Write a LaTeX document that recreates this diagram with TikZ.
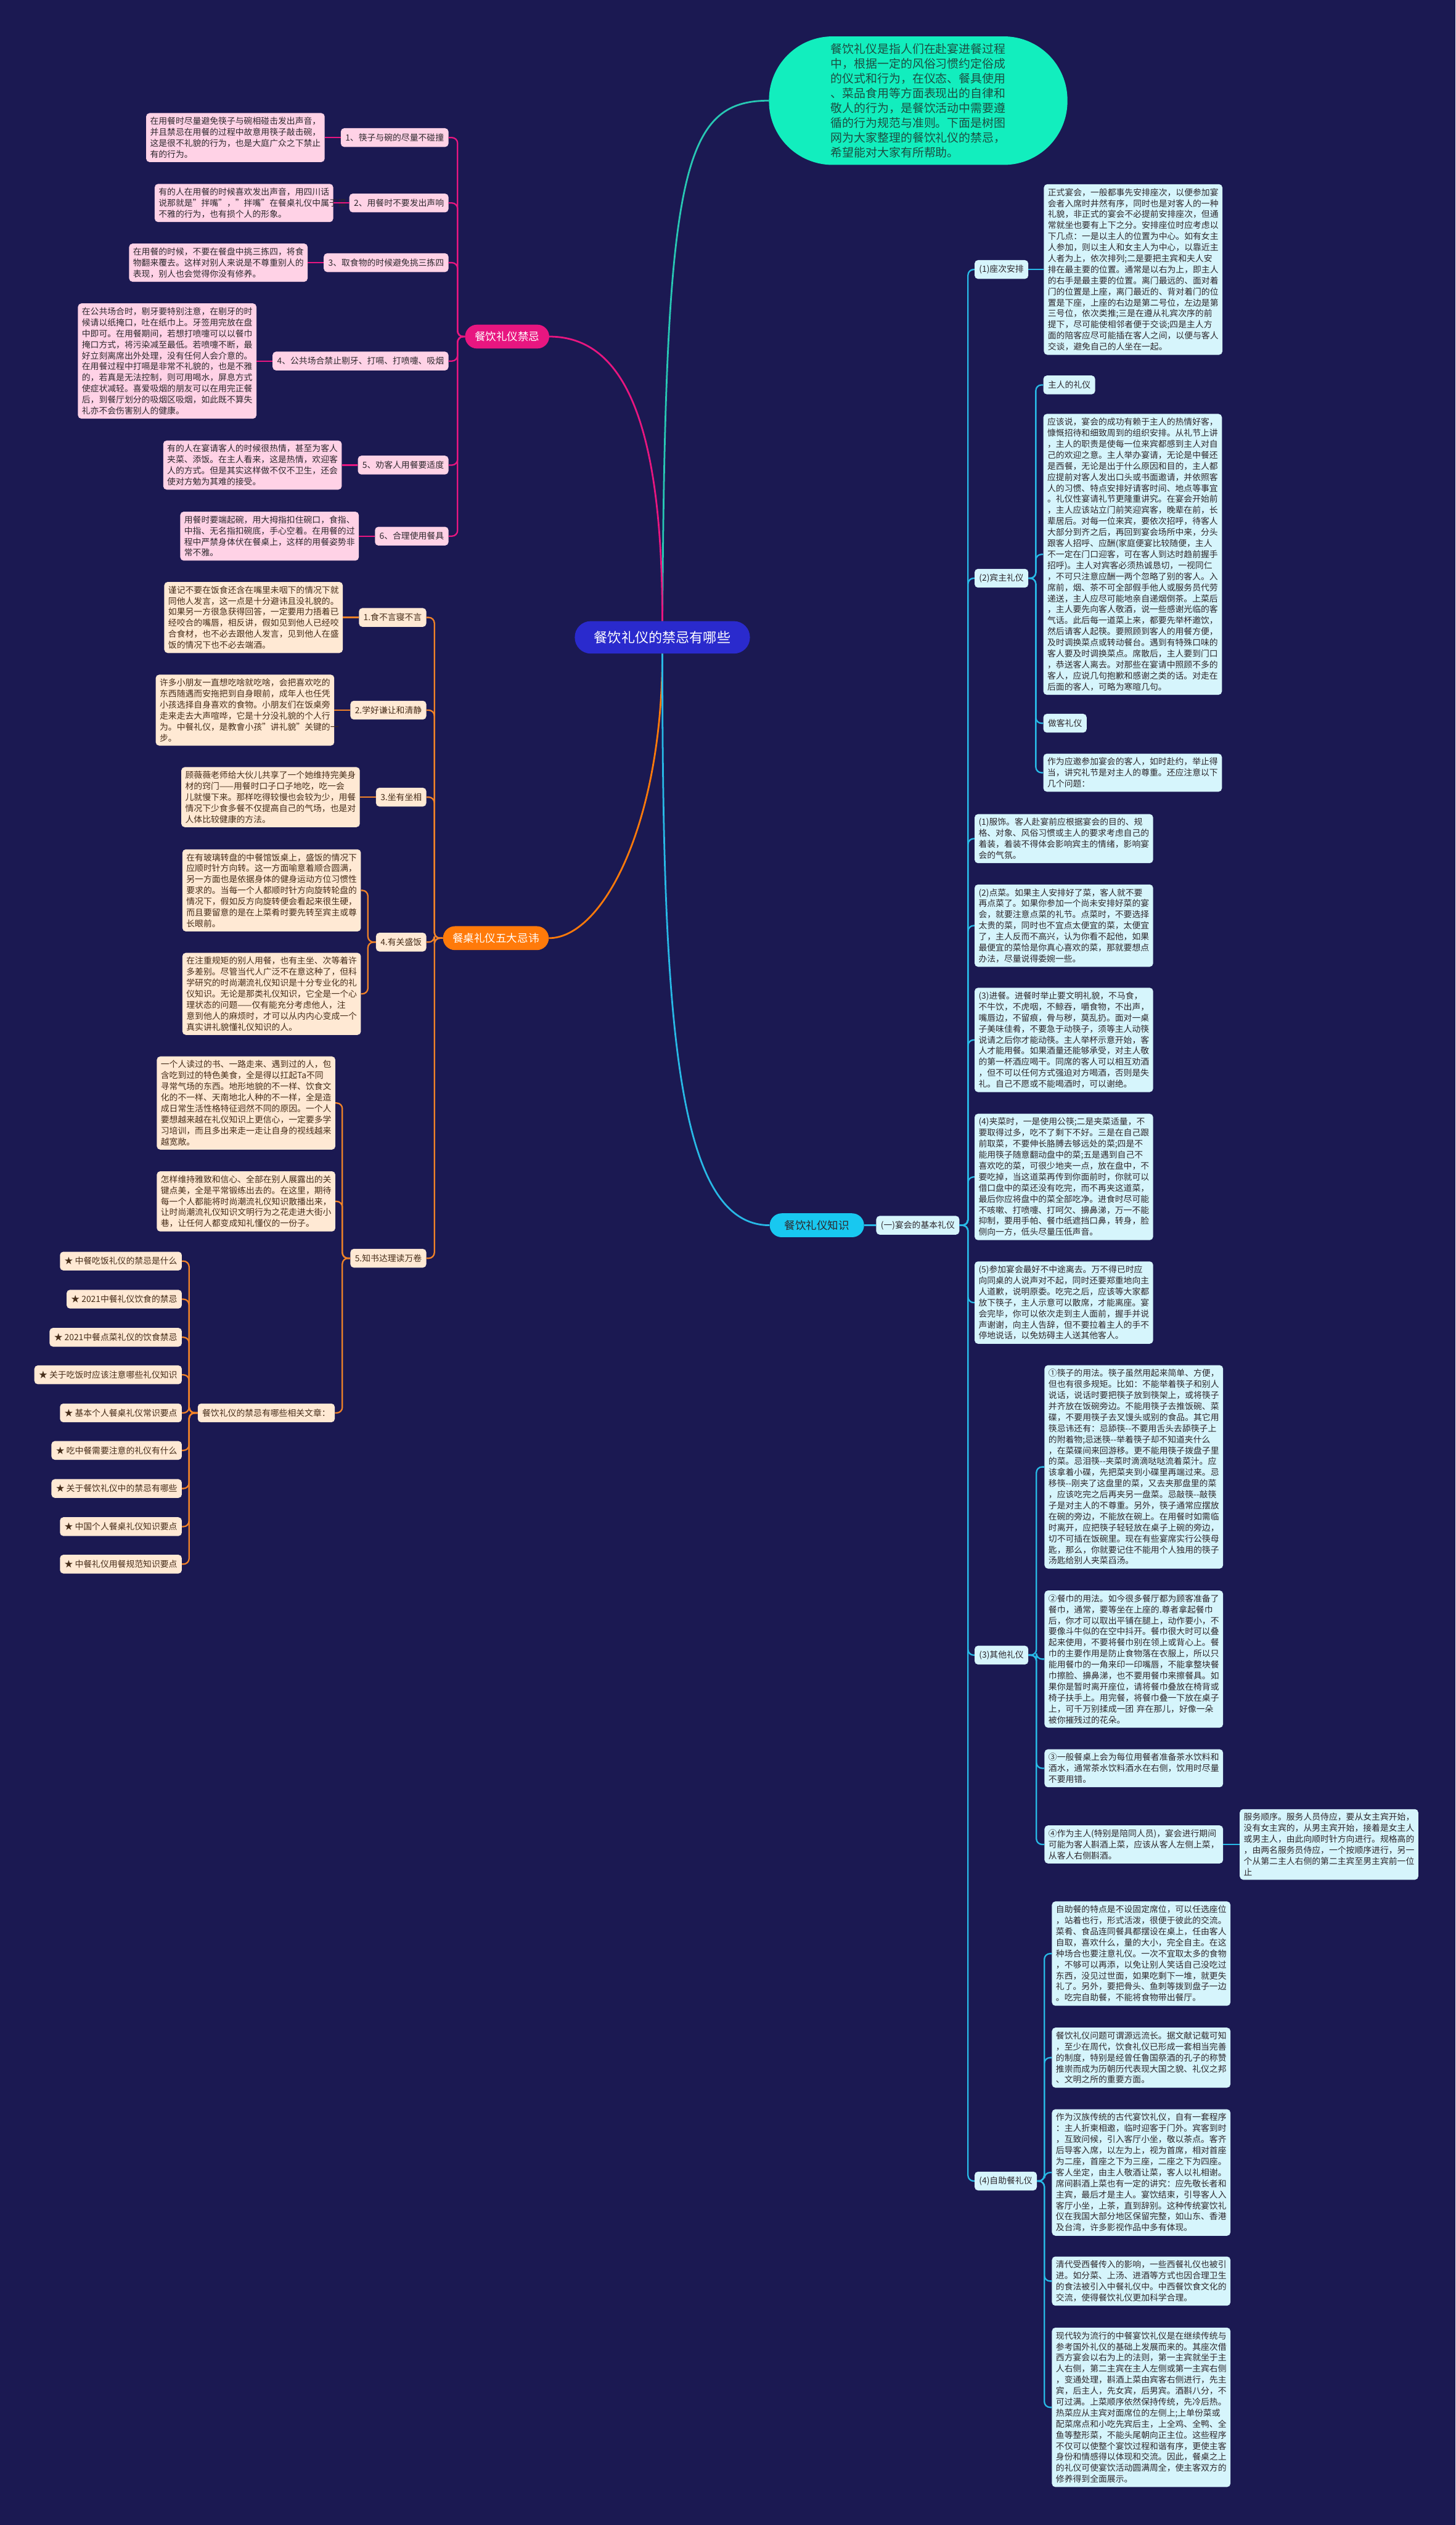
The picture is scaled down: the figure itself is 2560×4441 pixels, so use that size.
\documentclass[tikz,border=0pt]{standalone}
\usepackage{fontspec}
\setmainfont{Noto Sans CJK SC}
\usetikzlibrary{positioning}

\definecolor{bgnavy}{RGB}{27,25,82}
\definecolor{rootblue}{RGB}{42,42,205}
\definecolor{introteal}{RGB}{18,238,190}
\definecolor{introtext}{RGB}{28,78,66}
\definecolor{tealline}{RGB}{40,200,180}
\definecolor{pinkmain}{RGB}{232,22,128}
\definecolor{pinkfill}{RGB}{255,210,230}
\definecolor{orangemain}{RGB}{255,122,10}
\definecolor{orangeline}{RGB}{240,130,40}
\definecolor{orangefill}{RGB}{255,233,212}
\definecolor{cyanmain}{RGB}{24,200,240}
\definecolor{cyanline}{RGB}{40,185,230}
\definecolor{cyanfill}{RGB}{214,245,252}
\definecolor{darktext}{RGB}{45,40,45}
\definecolor{browntext}{RGB}{70,45,25}

\tikzset{
  every node/.style={font=\fontsize{15}{19.4}\selectfont},
  txtbox/.style={rounded corners=6pt, inner xsep=7pt, inner ysep=7pt, text width=300pt, align=left, text=darktext},
  pinkbox/.style={txtbox, fill=pinkfill},
  orangebox/.style={txtbox, fill=orangefill, text=browntext},
  cyanbox/.style={txtbox, fill=cyanfill},
  lbl/.style={rounded corners=6pt, inner xsep=8pt, minimum height=33pt, text=darktext},
  pinklabel/.style={lbl, fill=pinkfill},
  orangelabel/.style={lbl, fill=orangefill, text=browntext},
  cyanlabel/.style={lbl, fill=cyanfill},
  branch/.style={rounded corners=21pt, minimum height=42pt, inner xsep=17pt, font=\fontsize{19}{22}\selectfont},
  rootnode/.style={rounded corners=28pt, minimum height=57pt, inner xsep=34pt, fill=rootblue, text=white, font=\fontsize{24}{28}\selectfont},
  intronode/.style={rounded corners=112pt, minimum width=525pt, minimum height=226pt, fill=introteal, text=introtext, align=left, font=\fontsize{20.5}{26}\selectfont},
  mainln/.style={line width=3pt},
  pinkln/.style={pinkmain, line width=2.5pt, rounded corners=10pt},
  orangeln/.style={orangeline, line width=2.5pt, rounded corners=10pt},
  cyanln/.style={cyanline, line width=2.5pt, rounded corners=10pt}
}

\begin{document}
\begin{tikzpicture}[x=1pt,y=-1pt]
\fill[bgnavy] (0,0) rectangle (2560,4441);
\useasboundingbox (0,0) rectangle (2560,4441);

% centre and intro
\node[rootnode] (root) at (1165,1121) {餐饮礼仪的禁忌有哪些};
\node[intronode] (intro) at (1615,177) {餐饮礼仪是指人们在赴宴进餐过程\\中，根据一定的风俗习惯约定俗成\\的仪式和行为，在仪态、餐具使用\\、菜品食用等方面表现出的自律和\\敬人的行为，是餐饮活动中需要遵\\循的行为规范与准则。下面是树图\\网为大家整理的餐饮礼仪的禁忌，\\希望能对大家有所帮助。};
\draw[tealline, mainln] (root.north) .. controls (1170,300) and (1200,177) .. (intro.west);

% left top: 餐饮礼仪禁忌
\node[branch, fill=pinkmain, text=white] (pk) at (892,592) {餐饮礼仪禁忌};
\draw[pinkmain, mainln] (root.north) .. controls (1165,750) and (1100,592) .. (pk.east);

\node[pinklabel, anchor=east] (pl1) at (789,242) {1、筷子与碗的尽量不碰撞};
\node[pinklabel, anchor=east] (pl2) at (789,357) {2、用餐时不要发出声响};
\node[pinklabel, anchor=east] (pl3) at (789,462) {3、取食物的时候避免挑三拣四};
\node[pinklabel, anchor=east] (pl4) at (789,635) {4、公共场合禁止剔牙、打嗝、打喷嚏、吸烟};
\node[pinklabel, anchor=east] (pl5) at (789,818) {5、劝客人用餐要适度};
\node[pinklabel, anchor=east] (pl6) at (789,943) {6、合理使用餐具};

\node[pinkbox, left=28pt of pl1] (pb1) {在用餐时尽量避免筷子与碗相碰击发出声音，\\并且禁忌在用餐的过程中故意用筷子敲击碗，\\这是很不礼貌的行为，也是大庭广众之下禁止\\有的行为。};
\node[pinkbox, left=28pt of pl2] (pb2) {有的人在用餐的时候喜欢发出声音，用四川话\\说那就是"拌嘴"，"拌嘴"在餐桌礼仪中属于很\\不雅的行为，也有损个人的形象。};
\node[pinkbox, left=28pt of pl3] (pb3) {在用餐的时候，不要在餐盘中挑三拣四，将食\\物翻来覆去。这样对别人来说是不尊重别人的\\表现，别人也会觉得你没有修养。};
\node[pinkbox, left=28pt of pl4] (pb4) {在公共场合时，剔牙要特别注意，在剔牙的时\\候请以纸掩口，吐在纸巾上。牙签用完放在盘\\中即可。在用餐期间，若想打喷嚏可以以餐巾\\掩口方式，将污染减至最低。若喷嚏不断，最\\好立刻离席出外处理，没有任何人会介意的。\\在用餐过程中打嗝是非常不礼貌的，也是不雅\\的，若真是无法控制，则可用喝水，屏息方式\\使症状减轻。喜爱吸烟的朋友可以在用完正餐\\后，到餐厅划分的吸烟区吸烟，如此既不算失\\礼亦不会伤害别人的健康。};
\node[pinkbox, left=28pt of pl5] (pb5) {有的人在宴请客人的时候很热情，甚至为客人\\夹菜、添饭。在主人看来，这是热情，欢迎客\\人的方式。但是其实这样做不仅不卫生，还会\\使对方勉为其难的接受。};
\node[pinkbox, left=28pt of pl6] (pb6) {用餐时要端起碗，用大拇指扣住碗口，食指、\\中指、无名指扣碗底，手心空着。在用餐的过\\程中严禁身体伏在餐桌上，这样的用餐姿势非\\常不雅。};

\foreach \i in {1,...,6} {
  \draw[pinkln] (pk.west) -- ++(-13,0) |- (pl\i.east);
  \draw[pinkln] (pl\i.west) -- (pb\i.east);
}

% left bottom: 餐桌礼仪五大忌讳
\node[branch, fill=orangemain, text=white, anchor=west] (on) at (779,1650) {餐桌礼仪五大忌讳};
\draw[orangemain, mainln] (root.south) .. controls (1165,1450) and (1060,1650) .. (on.east);

\node[orangelabel, anchor=east] (ol1) at (750,1086) {1.食不言寝不言};
\node[orangelabel, anchor=east] (ol2) at (750,1249) {2.学好谦让和清静};
\node[orangelabel, anchor=east] (ol3) at (750,1402) {3.坐有坐相};
\node[orangelabel, anchor=east] (ol4) at (750,1657) {4.有关盛饭};
\node[orangelabel, anchor=east] (ol5) at (750,2213) {5.知书达理读万卷};

\node[orangebox, left=28pt of ol1] (ob1) {谨记不要在饭食还含在嘴里未咽下的情况下就\\同他人发言，这一点是十分避讳且没礼貌的。\\如果另一方很急获得回答，一定要用力捂着已\\经咬合的嘴唇，相反讲，假如见到他人已经咬\\合食材，也不必去跟他人发言，见到他人在盛\\饭的情况下也不必去端酒。};
\node[orangebox, left=28pt of ol2] (ob2) {许多小朋友一直想吃啥就吃啥，会把喜欢吃的\\东西随遇而安拖把到自身眼前，成年人也任凭\\小孩选择自身喜欢的食物。小朋友们在饭桌旁\\走来走去大声喧哗，它是十分没礼貌的个人行\\为。中餐礼仪，是教會小孩"讲礼貌"关键的一\\步。};
\node[orangebox, left=28pt of ol3] (ob3) {顾薇薇老师给大伙儿共享了一个她维持完美身\\材的窍门——用餐时口子口子地吃，吃一会\\儿就慢下来。那样吃得较慢也会较为少，用餐\\情况下少食多餐不仅提高自己的气场，也是对\\人体比较健康的方法。};
\node[orangebox, anchor=east] (ob4a) at (635,1566) {在有玻璃转盘的中餐馆饭桌上，盛饭的情况下\\应顺时针方向转。这一方面喻意着顺合圆满，\\另一方面也是依据身体的健身运动方位习惯性\\要求的。当每一个人都顺时针方向旋转轮盘的\\情况下，假如反方向旋转便会看起来很生硬，\\而且要留意的是在上菜肴时要先转至宾主或尊\\长眼前。};
\node[orangebox, anchor=east] (ob4b) at (635,1748) {在注重规矩的别人用餐，也有主坐、次等着许\\多差别。尽管当代人广泛不在意这种了，但科\\学研究的时尚潮流礼仪知识是十分专业化的礼\\仪知识。无论是那类礼仪知识，它全是一个心\\理状态的问题——仅有能充分考虑他人，注\\意到他人的麻烦时，才可以从内内心变成一个\\真实讲礼貌懂礼仪知识的人。};
\node[orangebox, anchor=east] (ob5a) at (590,1940) {一个人读过的书、一路走来、遇到过的人，包\\含吃到过的特色美食，全是得以扛起Ta不同\\寻常气场的东西。地形地貌的不一样、饮食文\\化的不一样、天南地北人种的不一样，全是造\\成日常生活性格特征迥然不同的原因。一个人\\要想越来越在礼仪知识上更信心，一定要多学\\习培训，而且多出来走一走让自身的视线越来\\越宽敞。};
\node[orangebox, anchor=east] (ob5b) at (590,2113) {怎样维持雅致和信心、全部在别人展露出的关\\键点美，全是平常锻练出去的。在这里，期待\\每一个人都能将时尚潮流礼仪知识散播出来，\\让时尚潮流礼仪知识文明行为之花走进大街小\\巷，让任何人都变成知礼懂仪的一份子。};
\node[orangelabel, anchor=east] (rel) at (589,2485) {餐饮礼仪的禁忌有哪些相关文章：};

\node[orangelabel, anchor=east] (st1) at (320,2218) {★ 中餐吃饭礼仪的禁忌是什么};
\node[orangelabel, anchor=east] (st2) at (320,2285) {★ 2021中餐礼仪饮食的禁忌};
\node[orangelabel, anchor=east] (st3) at (320,2352) {★ 2021中餐点菜礼仪的饮食禁忌};
\node[orangelabel, anchor=east] (st4) at (320,2418) {★ 关于吃饭时应该注意哪些礼仪知识};
\node[orangelabel, anchor=east] (st5) at (320,2485) {★ 基本个人餐桌礼仪常识要点};
\node[orangelabel, anchor=east] (st6) at (320,2551) {★ 吃中餐需要注意的礼仪有什么};
\node[orangelabel, anchor=east] (st7) at (320,2618) {★ 关于餐饮礼仪中的禁忌有哪些};
\node[orangelabel, anchor=east] (st8) at (320,2685) {★ 中国个人餐桌礼仪知识要点};
\node[orangelabel, anchor=east] (st9) at (320,2751) {★ 中餐礼仪用餐规范知识要点};

\foreach \i in {1,...,5}
  \draw[orangeln] (on.west) -- ++(-15,0) |- (ol\i.east);
\foreach \i in {1,2,3}
  \draw[orangeln] (ol\i.west) -- (ob\i.east);
\foreach \n in {ob4a,ob4b}
  \draw[orangeln] (ol4.west) -- ++(-14,0) |- (\n.east);
\foreach \n in {ob5a,ob5b,rel}
  \draw[orangeln] (ol5.west) -- ++(-14,0) |- (\n.east);
\foreach \i in {1,...,9}
  \draw[orangeln] (rel.west) -- ++(-15,0) |- (st\i.east);

% right: 餐饮礼仪知识
\node[branch, fill=cyanmain, text=darktext, minimum width=166pt, anchor=east] (cn) at (1520,2155) {餐饮礼仪知识};
\draw[cyanline, mainln] (root.south) .. controls (1165,1800) and (1190,2155) .. (cn.west);

\node[cyanlabel, anchor=west] (c0) at (1541,2155) {(一)宴会的基本礼仪};
\draw[cyanln] (cn.east) -- (c0.west);

\node[cyanlabel, anchor=west] (c1) at (1714,474) {(1)座次安排};
\node[cyanlabel, anchor=west] (c2) at (1714,1017) {(2)宾主礼仪};
\node[cyanlabel, anchor=west] (c3) at (1714,2911) {(3)其他礼仪};
\node[cyanlabel, anchor=west] (c4) at (1714,3836) {(4)自助餐礼仪};

\node[cyanbox, right=27pt of c1] (cb1) {正式宴会，一般都事先安排座次，以便参加宴\\会者入席时井然有序，同时也是对客人的一种\\礼貌，非正式的宴会不必提前安排座次，但通\\常就坐也要有上下之分。安排座位时应考虑以\\下几点：一是以主人的位置为中心。如有女主\\人参加，则以主人和女主人为中心，以靠近主\\人者为上，依次排列;二是要把主宾和夫人安\\排在最主要的位置。通常是以右为上，即主人\\的右手是最主要的位置。离门最远的、面对着\\门的位置是上座，离门最近的、背对着门的位\\置是下座，上座的右边是第二号位，左边是第\\三号位，依次类推;三是在遵从礼宾次序的前\\提下，尽可能使相邻者便于交谈;四是主人方\\面的陪客应尽可能插在客人之间，以便与客人\\交谈，避免自己的人坐在一起。};

\node[cyanlabel, anchor=west] (c2a) at (1835,677) {主人的礼仪};
\node[cyanbox, anchor=west] (c2b) at (1835,975) {应该说，宴会的成功有赖于主人的热情好客，\\慷慨招待和细致周到的组织安排。从礼节上讲\\，主人的职责是使每一位来宾都感到主人对自\\己的欢迎之意。主人举办宴请，无论是中餐还\\是西餐，无论是出于什么原因和目的，主人都\\应提前对客人发出口头或书面邀请，并依照客\\人的习惯、特点安排好请客时间、地点等事宜\\。礼仪性宴请礼节更隆重讲究。在宴会开始前\\，主人应该站立门前笑迎宾客，晚辈在前，长\\辈居后。对每一位来宾，要依次招呼，待客人\\大部分到齐之后，再回到宴会场所中来，分头\\跟客人招呼、应酬(家庭便宴比较随便，主人\\不一定在门口迎客，可在客人到达时趋前握手\\招呼)。主人对宾客必须热诚恳切，一视同仁\\，不可只注意应酬一两个忽略了别的客人。入\\席前，烟、茶不可全部假手他人或服务员代劳\\递送，主人应尽可能地亲自递烟倒茶。上菜后\\，主人要先向客人敬酒，说一些感谢光临的客\\气话。此后每一道菜上来，都要先举杯邀饮，\\然后请客人起筷。要照顾到客人的用餐方便，\\及时调换菜点或转动餐台。遇到有特殊口味的\\客人要及时调换菜点。席散后，主人要到门口\\，恭送客人离去。对那些在宴请中照顾不多的\\客人，应说几句抱歉和感谢之类的话。对走在\\后面的客人，可略为寒暄几句。};
\node[cyanlabel, anchor=west] (c2c) at (1835,1272) {做客礼仪};
\node[cyanbox, anchor=west] (c2d) at (1835,1359) {作为应邀参加宴会的客人，如时赴约，举止得\\当，讲究礼节是对主人的尊重。还应注意以下\\几个问题：};

\node[cyanbox, anchor=west] (d1) at (1714,1475) {(1)服饰。客人赴宴前应根据宴会的目的、规\\格、对象、风俗习惯或主人的要求考虑自己的\\着装，着装不得体会影响宾主的情绪，影响宴\\会的气氛。};
\node[cyanbox, anchor=west] (d2) at (1714,1628) {(2)点菜。如果主人安排好了菜，客人就不要\\再点菜了。如果你参加一个尚未安排好菜的宴\\会，就要注意点菜的礼节。点菜时，不要选择\\太贵的菜，同时也不宜点太便宜的菜，太便宜\\了，主人反而不高兴，认为你看不起他，如果\\最便宜的菜恰是你真心喜欢的菜，那就要想点\\办法，尽量说得委婉一些。};
\node[cyanbox, anchor=west] (d3) at (1714,1829) {(3)进餐。进餐时举止要文明礼貌，不马食，\\不牛饮，不虎咽，不鲸吞，嚼食物，不出声，\\嘴唇边，不留痕，骨与秽，莫乱扔。面对一桌\\子美味佳肴，不要急于动筷子，须等主人动筷\\说请之后你才能动筷。主人举杯示意开始，客\\人才能用餐。如果酒量还能够承受，对主人敬\\的第一杯酒应喝干。同席的客人可以相互劝酒\\，但不可以任何方式强迫对方喝酒，否则是失\\礼。自己不愿或不能喝酒时，可以谢绝。};
\node[cyanbox, anchor=west] (d4) at (1714,2070) {(4)夹菜时，一是使用公筷;二是夹菜适量，不\\要取得过多，吃不了剩下不好。三是在自己跟\\前取菜，不要伸长胳膊去够远处的菜;四是不\\能用筷子随意翻动盘中的菜;五是遇到自己不\\喜欢吃的菜，可很少地夹一点，放在盘中，不\\要吃掉，当这道菜再传到你面前时，你就可以\\借口盘中的菜还没有吃完，而不再夹这道菜，\\最后你应将盘中的菜全部吃净。进食时尽可能\\不咳嗽、打喷嚏、打呵欠、擤鼻涕，万一不能\\抑制，要用手帕、餐巾纸遮挡口鼻，转身，脸\\侧向一方，低头尽量压低声音。};
\node[cyanbox, anchor=west] (d5) at (1714,2291) {(5)参加宴会最好不中途离去。万不得已时应\\向同桌的人说声对不起，同时还要郑重地向主\\人道歉，说明原委。吃完之后，应该等大家都\\放下筷子，主人示意可以散席，才能离座。宴\\会完毕，你可以依次走到主人面前，握手并说\\声谢谢，向主人告辞，但不要拉着主人的手不\\停地说话，以免妨碍主人送其他客人。};

\node[cyanbox, anchor=west] (e1) at (1837,2580) {①筷子的用法。筷子虽然用起来简单、方便，\\但也有很多规矩。比如：不能举着筷子和别人\\说话，说话时要把筷子放到筷架上，或将筷子\\并齐放在饭碗旁边。不能用筷子去推饭碗、菜\\碟，不要用筷子去叉馒头或别的食品。其它用\\筷忌讳还有：忌舔筷-{}-不要用舌头去舔筷子上\\的附着物;忌迷筷-{}-举着筷子却不知道夹什么\\，在菜碟间来回游移。更不能用筷子拨盘子里\\的菜。忌泪筷-{}-夹菜时滴滴哒哒流着菜汁。应\\该拿着小碟，先把菜夹到小碟里再端过来。忌\\移筷-{}-刚夹了这盘里的菜，又去夹那盘里的菜\\，应该吃完之后再夹另一盘菜。忌敲筷-{}-敲筷\\子是对主人的不尊重。另外，筷子通常应摆放\\在碗的旁边，不能放在碗上。在用餐时如需临\\时离开，应把筷子轻轻放在桌子上碗的旁边，\\切不可插在饭碗里。现在有些宴席实行公筷母\\匙，那么，你就要记住不能用个人独用的筷子\\汤匙给别人夹菜舀汤。};
\node[cyanbox, anchor=west] (e2) at (1837,2918) {②餐巾的用法。如今很多餐厅都为顾客准备了\\餐巾，通常，要等坐在上座的.尊者拿起餐巾\\后，你才可以取出平铺在腿上，动作要小，不\\要像斗牛似的在空中抖开。餐巾很大时可以叠\\起来使用，不要将餐巾别在领上或背心上。餐\\巾的主要作用是防止食物落在衣服上，所以只\\能用餐巾的一角来印一印嘴唇，不能拿整块餐\\巾擦脸、擤鼻涕，也不要用餐巾来擦餐具。如\\果你是暂时离开座位，请将餐巾叠放在椅背或\\椅子扶手上。用完餐，将餐巾叠一下放在桌子\\上，可千万别揉成一团 弃在那儿，好像一朵\\被你摧残过的花朵。};
\node[cyanbox, anchor=west] (e3) at (1837,3110) {③一般餐桌上会为每位用餐者准备茶水饮料和\\酒水，通常茶水饮料酒水在右侧，饮用时尽量\\不要用错。};
\node[cyanbox, anchor=west] (e4) at (1837,3244) {④作为主人(特别是陪同人员)，宴会进行期间\\可能为客人斟酒上菜，应该从客人左侧上菜，\\从客人右侧斟酒。};
\node[cyanbox, right=29pt of e4] (e4x) {服务顺序。服务人员侍应，要从女主宾开始，\\没有女主宾的，从男主宾开始，接着是女主人\\或男主人，由此向顺时针方向进行。规格高的\\，由两名服务员侍应，一个按顺序进行，另一\\个从第二主人右侧的第二主宾至男主宾前一位\\止};

\node[cyanbox, anchor=west] (f1) at (1850,3436) {自助餐的特点是不设固定席位，可以任选座位\\，站着也行，形式活泼，很便于彼此的交流。\\菜肴、食品连同餐具都摆设在桌上，任由客人\\自取，喜欢什么，量的大小，完全自主。在这\\种场合也要注意礼仪。一次不宜取太多的食物\\，不够可以再添，以免让别人笑话自己没吃过\\东西，没见过世面，如果吃剩下一堆，就更失\\礼了。另外，要把骨头、鱼刺等拨到盘子一边\\。吃完自助餐，不能将食物带出餐厅。};
\node[cyanbox, anchor=west] (f2) at (1850,3619) {餐饮礼仪问题可谓源远流长。据文献记载可知\\，至少在周代，饮食礼仪已形成一套相当完善\\的制度，特别是经曾任鲁国祭酒的孔子的称赞\\推崇而成为历朝历代表现大国之貌、礼仪之邦\\、文明之所的重要方面。};
\node[cyanbox, anchor=west] (f3) at (1850,3821) {作为汉族传统的古代宴饮礼仪，自有一套程序\\：主人折柬相邀，临时迎客于门外。宾客到时\\，互致问候，引入客厅小坐，敬以茶点。客齐\\后导客入席，以左为上，视为首席，相对首座\\为二座，首座之下为三座，二座之下为四座。\\客人坐定，由主人敬酒让菜，客人以礼相谢。\\席间斟酒上菜也有一定的讲究：应先敬长者和\\主宾，最后才是主人。宴饮结束，引导客人入\\客厅小坐，上茶，直到辞别。这种传统宴饮礼\\仪在我国大部分地区保留完整，如山东、香港\\及台湾，许多影视作品中多有体现。};
\node[cyanbox, anchor=west] (f4) at (1850,4012) {清代受西餐传入的影响，一些西餐礼仪也被引\\进。如分菜、上汤、进酒等方式也因合理卫生\\的食法被引入中餐礼仪中。中西餐饮食文化的\\交流，使得餐饮礼仪更加科学合理。};
\node[cyanbox, anchor=west] (f5) at (1850,4234) {现代较为流行的中餐宴饮礼仪是在继续传统与\\参考国外礼仪的基础上发展而来的。其座次借\\西方宴会以右为上的法则，第一主宾就坐于主\\人右侧，第二主宾在主人左侧或第一主宾右侧\\，变通处理，斟酒上菜由宾客右侧进行，先主\\宾，后主人，先女宾，后男宾。酒斟八分，不\\可过满。上菜顺序依然保持传统，先冷后热。\\热菜应从主宾对面席位的左侧上;上单份菜或\\配菜席点和小吃先宾后主，上全鸡、全鸭、全\\鱼等整形菜，不能头尾朝向正主位。这些程序\\不仅可以使整个宴饮过程和谐有序，更使主客\\身份和情感得以体现和交流。因此，餐桌之上\\的礼仪可使宴饮活动圆满周全，使主客双方的\\修养得到全面展示。};

\foreach \n in {c1,c2,d1,d2,d3,d4,d5,c3,c4}
  \draw[cyanln] (c0.east) -- ++(15,0) |- (\n.west);
\draw[cyanln] (c1.east) -- (cb1.west);
\foreach \n in {c2a,c2b,c2c,c2d}
  \draw[cyanln] (c2.east) -- ++(13,0) |- (\n.west);
\foreach \n in {e1,e2,e3,e4}
  \draw[cyanln] (c3.east) -- ++(14,0) |- (\n.west);
\draw[cyanln] (e4.east) -- (e4x.west);
\foreach \n in {f1,f2,f3,f4,f5}
  \draw[cyanln] (c4.east) -- ++(13,0) |- (\n.west);
\end{tikzpicture}
\end{document}
